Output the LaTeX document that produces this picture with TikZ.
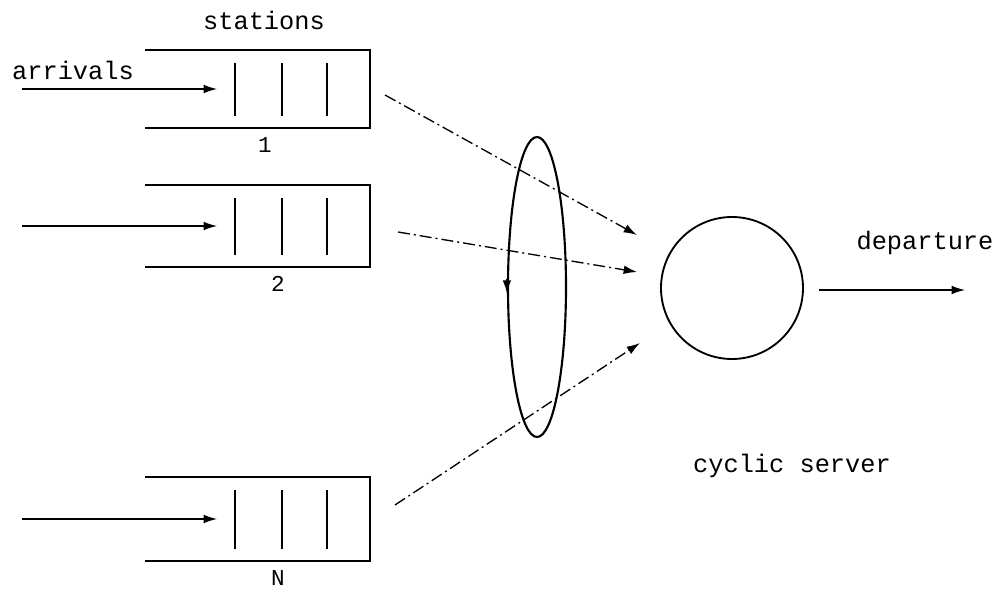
\documentclass[tikz,border=0pt]{standalone}
\usepackage{fontspec}
\setmonofont{Liberation Mono}
\usepackage{tikz}
\usetikzlibrary{arrows.meta, positioning, shapes.geometric}

\begin{document}
\begin{tikzpicture}[
    x=0.75pt, y=-0.75pt,
    wall/.style={line width=1.8pt},
    slot/.style={line width=1.2pt},
    arr/.style={-{Latex[length=10pt,width=6.5pt]}, line width=1pt},
    feed/.style={arr, dash pattern=on 9pt off 3pt on 1.5pt off 3pt},
    txt/.style={font=\ttfamily\fontsize{19}{20}\selectfont, inner sep=0pt},
    num/.style={font=\ttfamily\fontsize{17}{18}\selectfont, inner sep=0pt}
  ]
  \useasboundingbox (0,0) rectangle (1008,596);

  % stations: top / bottom / label / label x
  \foreach \q/\t/\b/\lab/\lx in {1/50/128/1/265, 2/185/267/2/278, 3/477/561/N/278} {
    \draw[wall] (145,\t) -- (370,\t) -- (370,\b) -- (145,\b);
    \foreach \s in {235,282,327}
      \draw[slot] (\s,\t+13) -- (\s,\b-12);
    \coordinate (src\q) at (22,{(\t+\b)/2});
    \coordinate (in\q) at (217,{(\t+\b)/2});
    \node[num] (lab\q) at (\lx,\b+17) {\lab};
    \draw[arr] (src\q) -- (in\q);
  }

  \node[txt] (stations) at (264,20) {stations};
  \node[txt] (arrivals) at (73,70) {arrivals};

  % polling cycle and server
  \node[draw, ellipse, line width=1.6pt, minimum width=43.5pt,
    minimum height=225pt] (poll) at (537,287) {};
  \draw[-{Latex[length=10pt,width=6.5pt]}, line width=1.6pt]
    ([yshift=6pt]poll.west) -- ([yshift=-5pt]poll.west);

  \node[draw, circle, line width=1.4pt, minimum size=106.5pt] (srv) at (732,288) {};
  \node[txt] (cyc) at (792,466) {cyclic server};

  % feed lines towards the server
  \coordinate (out1) at (385,95);
  \coordinate (out2) at (398,232);
  \coordinate (out3) at (395,505);
  \coordinate (tip1) at (637,235);
  \coordinate (tip2) at (637,272);
  \coordinate (tip3) at (640,343);
  \foreach \i in {1,2,3}
    \draw[feed] (out\i) -- (tip\i);

  % departure
  \coordinate (dep) at (965,290);
  \draw[arr] ([xshift=11pt]srv.east |- dep) -- (dep);
  \node[txt] (deplab) at (925,243) {departure};
\end{tikzpicture}
\end{document}
